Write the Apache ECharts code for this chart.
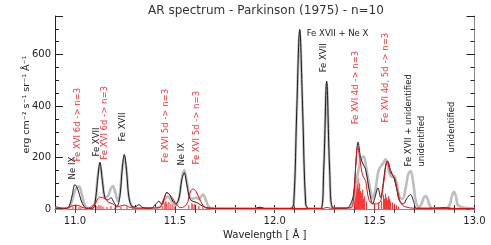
<!DOCTYPE html>
<html><head><meta charset="utf-8">
<script src="https://cdn.jsdelivr.net/npm/echarts@6/dist/echarts.min.js"></script>
<style>html,body{margin:0;padding:0;background:#fff}#c{width:491px;height:245px}</style>
</head><body><div id="c"></div>
<script>
// ---- data (wavelength in Å, intensity in erg cm-2 s-1 sr-1 Å-1) ----
const observedX = [10.90,10.96,10.975,10.99,11.005,11.02,11.035,11.05,11.07,11.10,11.112,11.125,11.138,11.15,11.165,11.18,11.19,11.20,11.215,11.225,11.237,11.247,11.258,11.27,11.285,11.30,11.40,11.43,11.45,11.465,11.48,11.50,11.52,11.535,11.547,11.56,11.575,11.59,11.605,11.62,11.64,11.655,11.67,11.70,12.08,12.095,12.11,12.125,12.14,12.155,12.17,12.23,12.245,12.26,12.275,12.29,12.37,12.39,12.41,12.43,12.445,12.46,12.475,12.49,12.505,12.52,12.54,12.555,12.57,12.585,12.597,12.61,12.625,12.64,12.655,12.668,12.68,12.692,12.705,12.72,12.735,12.745,12.755,12.765,12.775,12.79,12.86,12.875,12.887,12.897,12.907,12.92,13.00];
const observedY = [2,2,10,45,80,88,55,12,3,25,115,175,110,45,50,80,89,70,30,60,160,205,150,45,10,3,3,10,40,48,35,15,40,120,150,105,45,40,44,38,56,35,8,2,2,20,370,690,370,20,2,2,150,490,150,5,3,20,110,190,205,150,90,40,80,150,175,193,150,125,128,100,45,40,80,135,147,110,35,8,20,42,50,40,15,3,3,15,50,67,50,12,2];

const modelX = [10.90,10.95,10.97,10.985,11.00,11.015,11.03,11.045,11.06,11.09,11.10,11.113,11.125,11.137,11.15,11.165,11.18,11.195,11.21,11.225,11.237,11.247,11.258,11.27,11.285,11.30,11.32,11.34,11.38,11.405,11.42,11.435,11.45,11.46,11.475,11.49,11.505,11.52,11.535,11.547,11.56,11.575,11.59,11.61,11.63,11.66,11.70,11.90,11.925,11.95,12.08,12.095,12.11,12.125,12.14,12.155,12.17,12.23,12.245,12.26,12.275,12.29,12.32,12.36,12.38,12.395,12.408,12.417,12.43,12.445,12.455,12.465,12.475,12.49,12.50,12.517,12.53,12.54,12.555,12.565,12.58,12.597,12.61,12.625,12.645,12.66,12.68,12.695,12.71,12.80,12.85,12.90,13.00];
const modelY = [3,2,10,50,95,75,35,10,3,3,20,110,182,110,45,35,44,25,10,50,160,212,150,45,10,8,17,5,3,20,30,18,50,65,55,30,20,40,115,141,95,40,30,25,15,5,2,2,7,2,2,20,380,698,380,20,2,2,150,497,150,5,3,3,20,60,200,260,200,170,154,110,64,20,40,82,45,80,170,186,150,120,80,30,20,40,56,30,3,3,5,2,2];

const fe16X = [10.90,10.93,10.96,10.98,11.00,11.02,11.04,11.07,11.10,11.125,11.15,11.17,11.19,11.21,11.23,11.25,11.27,11.30,11.42,11.445,11.46,11.475,11.49,11.51,11.53,11.56,11.575,11.59,11.605,11.62,11.64,11.66,12.24,12.26,12.28,12.38,12.395,12.408,12.415,12.425,12.44,12.455,12.47,12.49,12.51,12.53,12.545,12.563,12.58,12.60,12.615,12.63,12.65,12.70,13.00];
const fe16Y = [10,4,3,10,15,13,5,2,20,46,40,25,20,8,12,15,8,3,5,40,62,55,40,15,5,20,60,78,70,45,15,3,2,6,3,5,40,200,244,200,130,110,40,20,20,30,100,186,140,120,70,25,10,3,2];

const lineX = [10.99,11.005,11.02,11.03,11.11,11.12,11.13,11.14,11.16,11.18,11.20,11.23,11.26,11.44,11.45,11.455,11.46,11.47,11.48,11.49,11.50,11.57,11.585,11.59,11.60,11.62,11.64,12.40,12.405,12.41,12.413,12.417,12.42,12.425,12.43,12.435,12.44,12.445,12.45,12.46,12.50,12.52,12.535,12.545,12.55,12.555,12.56,12.565,12.57,12.575,12.58,12.59,12.60,12.61,12.62];
const lineY = [10,14,8,6,12,16,14,10,8,12,6,8,10,12,25,30,22,28,18,20,10,15,22,18,20,12,8,60,110,130,95,120,80,100,70,60,75,40,50,30,20,25,30,55,40,60,45,35,50,40,30,25,20,15,10];

const xTickLabels = [11.0, 11.5, 12.0, 12.5, 13.0];
const yTickLabels = [0, 200, 400, 600];

const annText  = ['Ne IX','Fe XVI 6d -> n=3','Fe XVII','Fe XVI 6d -> n=3','Fe XVII','Fe XVI 5d -> n=3','Ne IX','Fe XVI 5d -> n=3','Fe XVII','Fe XVI 4d -> n=3','Fe XVI 4d, 5d -> n=3','Fe XVII + unidentified','unidentified','unidentified'];
const annX     = [10.989,11.013,11.111,11.147,11.238,11.453,11.537,11.612,12.245,12.4035,12.5535,12.6715,12.7385,12.8885];
const annY     = [115,185,204,192,262,181,169,173,531,329,336,165,165,220];
const annRed   = [0,1,0,1,0,1,0,1,0,1,1,0,0,0];
const headText = 'Fe XVII + Ne X', headX = 12.16, headY = 682;

const zip = (a,b)=>a.map((v,i)=>[v,b[i]]);
const isLab = (v, list)=>list.some(t=>Math.abs(t-v)<1e-6);
const FONT = 'DejaVu Sans';

const chart = echarts.init(document.getElementById('c'), null, {renderer:'canvas'});
const baseX = {type:'value', min:10.9, max:13.0, interval:0.1, splitLine:{show:false}};
const baseY = {type:'value', min:0, max:750, splitLine:{show:false}};
chart.setOption({
  animation:false,
  title:{text:'AR spectrum - Parkinson (1975) - n=10', left:261, textAlign:'center', top:0,
    textStyle:{fontFamily:FONT, fontSize:12, fontWeight:'normal', color:'#333'}},
  grid:{left:55, right:16.5, top:16, bottom:35.5},
  xAxis:[
    Object.assign({}, baseX, {position:'bottom', name:'Wavelength [ Å ]', nameLocation:'middle', nameGap:21,
      nameMoveOverlap:false,
      nameTextStyle:{fontFamily:FONT, fontSize:10, color:'#222'},
      axisLine:{lineStyle:{color:'#222'}}, axisTick:{inside:true, length:4, lineStyle:{color:'#222'}},
      axisLabel:{fontFamily:FONT, fontSize:10, color:'#222', margin:7, showMinLabel:true, showMaxLabel:true,
        formatter:v=>isLab(+v, xTickLabels)?(+v).toFixed(1):''}}),
    Object.assign({}, baseX, {position:'top', axisLine:{lineStyle:{color:'#888'}},
      axisTick:{inside:true, length:4, lineStyle:{color:'#444'}}, axisLabel:{show:false}})
  ],
  yAxis:[
    Object.assign({}, baseY, {position:'left', interval:200, name:'erg cm⁻² s⁻¹ sr⁻¹ Å⁻¹', nameLocation:'middle', nameGap:23,
      nameMoveOverlap:false,
      nameTextStyle:{fontFamily:FONT, fontSize:9.5, color:'#222', padding:[0,0,0,16]},
      axisLine:{lineStyle:{color:'#222'}}, axisTick:{inside:true, length:8, lineStyle:{color:'#222'}},
      axisLabel:{fontFamily:FONT, fontSize:10, color:'#222', margin:4, formatter:v=>isLab(+v,yTickLabels)?String(v):''}}),
    Object.assign({}, baseY, {position:'left', interval:50, axisLine:{show:false},
      axisTick:{inside:true, length:4, lineStyle:{color:'#222'}}, axisLabel:{show:false}}),
    Object.assign({}, baseY, {position:'right', interval:200, axisLine:{lineStyle:{color:'#888'}},
      axisTick:{inside:true, length:8, lineStyle:{color:'#222'}}, axisLabel:{show:false}}),
    Object.assign({}, baseY, {position:'right', interval:50, axisLine:{show:false},
      axisTick:{inside:true, length:4, lineStyle:{color:'#222'}}, axisLabel:{show:false}})
  ],
  series:[
    {type:'bar', name:'lines', data:zip(lineX,lineY), barWidth:1, itemStyle:{color:'#ff2020'}, silent:true},
    {type:'line', name:'observed', data:zip(observedX,observedY), showSymbol:false, smooth:0.35,
      lineStyle:{color:'#bdbdbd', width:2.6}, z:3},
    {type:'line', name:'model', data:zip(modelX,modelY), showSymbol:false, smooth:0.35,
      lineStyle:{color:'#1a1a1a', width:1}, z:4},
    {type:'line', name:'Fe XVI', data:zip(fe16X,fe16Y), showSymbol:false, smooth:0.35,
      lineStyle:{color:'#ff0000', width:1}, z:5}
  ]
});

const els = annText.map((t,i)=>{
  const p = chart.convertToPixel({xAxisIndex:0,yAxisIndex:0},[annX[i],annY[i]]);
  return {type:'text', x:p[0], y:p[1], rotation:Math.PI/2, z:10,
    style:{text:t, fill:annRed[i]?'#ff3030':'#222', font:'8.5px "DejaVu Sans"', textAlign:'left', textVerticalAlign:'middle'}};
});
const hp = chart.convertToPixel({xAxisIndex:0,yAxisIndex:0},[headX,headY]);
els.push({type:'text', x:hp[0], y:hp[1], z:10,
  style:{text:headText, fill:'#222', font:'8.5px "DejaVu Sans"', textAlign:'left', textVerticalAlign:'middle'}});
chart.setOption({graphic:els});
</script></body></html>
